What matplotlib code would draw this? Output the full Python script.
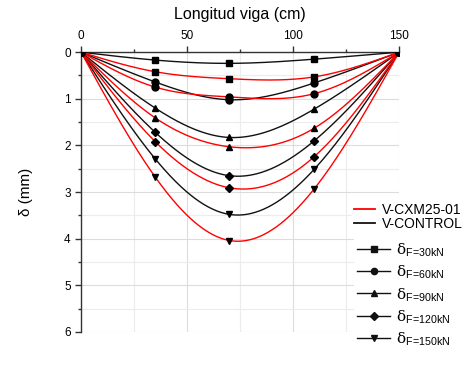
import numpy as np
import matplotlib
matplotlib.use('Agg')
import matplotlib.pyplot as plt
from matplotlib.lines import Line2D
from matplotlib.ticker import MultipleLocator

plt.rcParams['font.family'] = ['Liberation Sans', 'DejaVu Sans']
plt.rcParams['mathtext.fontset'] = 'custom'
plt.rcParams['mathtext.rm'] = 'DejaVu Serif'
plt.rcParams['mathtext.sf'] = 'Liberation Sans'

# posiciones de medicion (cm)
x_pos = [0, 35, 70, 110, 150]
loads = ['30', '60', '90', '120', '150']
markers = ['s', 'o', '^', 'D', 'v']

# V-CONTROL (negro)
control = [
    [0, 0.17, 0.24, 0.15, 0],
    [0, 0.64, 1.02, 0.66, 0],
    [0, 1.20, 1.83, 1.22, 0],
    [0, 1.72, 2.65, 1.90, 0],
    [0, 2.29, 3.48, 2.51, 0],
]
# V-CXM25-01 (rojo)
cxm = [
    [0, 0.42, 0.57, 0.53, 0],
    [0, 0.75, 0.96, 0.89, 0],
    [0, 1.41, 2.03, 1.63, 0],
    [0, 1.92, 2.91, 2.24, 0],
    [0, 2.68, 4.04, 2.93, 0],
]


def spline(x, y, n=300):
    '''natural cubic spline, solo para dibujar la curva suave'''
    x = np.asarray(x, float)
    y = np.asarray(y, float)
    h = np.diff(x)
    m = len(x)
    A = np.zeros((m, m))
    b = np.zeros(m)
    A[0, 0] = A[-1, -1] = 1
    for i in range(1, m - 1):
        A[i, i - 1] = h[i - 1]
        A[i, i] = 2 * (h[i - 1] + h[i])
        A[i, i + 1] = h[i]
        b[i] = 6 * ((y[i + 1] - y[i]) / h[i] - (y[i] - y[i - 1]) / h[i - 1])
    M = np.linalg.solve(A, b)
    xx = np.linspace(x[0], x[-1], n)
    idx = np.clip(np.searchsorted(x, xx) - 1, 0, m - 2)
    x0, x1 = x[idx], x[idx + 1]
    hh = h[idx]
    yy = (M[idx] * (x1 - xx) ** 3 / (6 * hh) + M[idx + 1] * (xx - x0) ** 3 / (6 * hh)
          + (y[idx] / hh - M[idx] * hh / 6) * (x1 - xx)
          + (y[idx + 1] / hh - M[idx + 1] * hh / 6) * (xx - x0))
    return xx, yy


fig = plt.figure(figsize=(4.74, 3.78), dpi=100)
ax = fig.add_axes((0.171, 0.122, 0.671, 0.74))

for serie, color in [(control, '#111111'), (cxm, '#ff0000')]:
    for vals, mk in zip(serie, markers):
        xs, ys = spline(x_pos, vals)
        ax.plot(xs, ys, color=color, lw=1.0, zorder=3)
        ax.plot(x_pos, vals, ls='none', marker=mk, color='black',
                ms=5 if mk != 'D' else 4.5, zorder=4)

ax.set_xlim(0, 150)
ax.set_ylim(6, 0)
ax.xaxis.set_major_locator(MultipleLocator(50))
ax.xaxis.set_minor_locator(MultipleLocator(25))
ax.yaxis.set_major_locator(MultipleLocator(1))
ax.yaxis.set_minor_locator(MultipleLocator(0.5))
ax.xaxis.tick_top()
ax.xaxis.set_label_position('top')
ax.tick_params(which='both', direction='out', labelsize=8.5, color='#333333', width=1.0)
ax.tick_params(which='major', length=4)
ax.tick_params(which='minor', length=2.5)
ax.grid(which='major', color='#dcdcdc', lw=0.8, zorder=0)
ax.grid(which='minor', color='#ececec', lw=0.8, zorder=0)
for s in ['bottom', 'right']:
    ax.spines[s].set_visible(False)
for s in ['top', 'left']:
    ax.spines[s].set_color('#333333')
    ax.spines[s].set_linewidth(1.0)

ax.set_xlabel('Longitud viga (cm)', fontsize=11.5, labelpad=8)
ax.set_ylabel('δ (mm)', fontsize=11, labelpad=22)

h1 = [Line2D([], [], color='#ff0000', lw=1.3), Line2D([], [], color='#111111', lw=1.3)]
leg1 = fig.legend(h1, ['V-CXM25-01', 'V-CONTROL'], loc='upper left',
                  bbox_to_anchor=(0.727, 0.49), fontsize=10, frameon=True,
                  facecolor='white', edgecolor='none', framealpha=1,
                  handlelength=1.5, handletextpad=0.5, labelspacing=0.05,
                  borderpad=0.2, fancybox=False)

h2 = [Line2D([], [], color='#111111', lw=1.0, marker=mk, ms=4.5) for mk in markers]
lab2 = [r'$\mathrm{\delta}_{\mathsf{F\!=\!%skN}}$' % f for f in loads]
leg2 = fig.legend(h2, lab2, loc='upper left', bbox_to_anchor=(0.73, 0.39),
                  fontsize=11, frameon=True, facecolor='white', edgecolor='none',
                  framealpha=1, handlelength=2.2, handletextpad=0.4,
                  labelspacing=0.3, borderpad=0.2, fancybox=False)

fig.savefig('out.png', dpi=100)
